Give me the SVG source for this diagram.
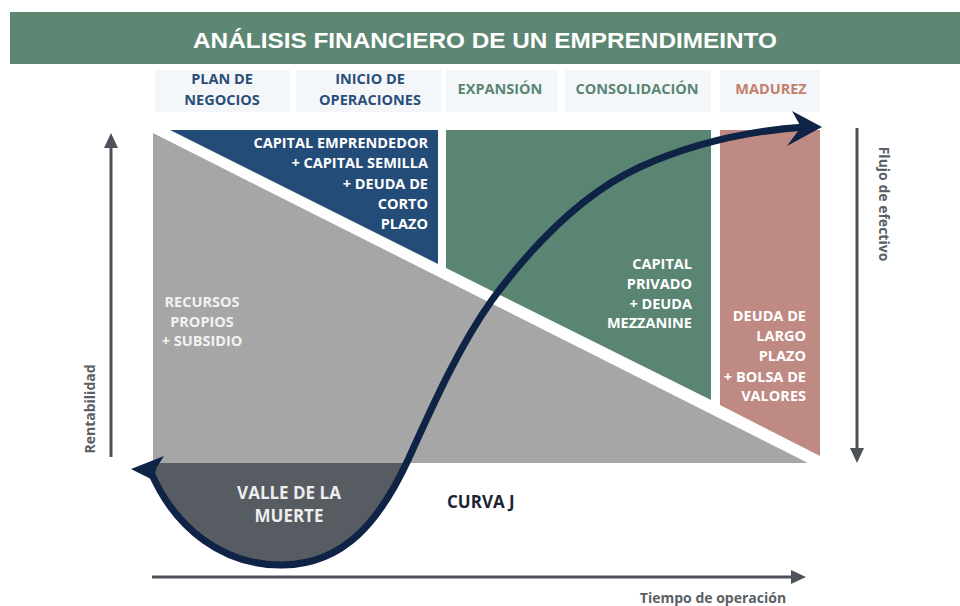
<svg xmlns="http://www.w3.org/2000/svg" width="960" height="606" viewBox="0 0 960 606">
<defs>
<style>
.t{font-family:"Open Sans","Liberation Sans",sans-serif;font-weight:700}
.hd{font-size:14.5px;text-anchor:middle}
.w{fill:#ffffff;font-size:14.5px;text-anchor:end}
.lbl{font-size:14px;fill:#5a5f66}
.ax{stroke:#4d525a;stroke-width:3;fill:none}
.axh{fill:#4d525a}
.hb{fill:#f3f7fa}
</style>
</defs>
<rect width="960" height="606" fill="#ffffff"/>
<g id="title">
<rect x="10" y="12" width="950" height="52" fill="#5e8773"/>
<text x="485" y="48" font-family="'Liberation Sans',Arial,sans-serif" font-weight="700" font-size="22" fill="#ffffff" text-anchor="middle" textLength="584" lengthAdjust="spacingAndGlyphs">ANÁLISIS FINANCIERO DE UN EMPRENDIMEINTO</text>
</g>
<g id="phase-plan">
<rect class="hb" x="155" y="70" width="135" height="42"/>
<text class="t hd" x="222" y="84" fill="#2b4e78">PLAN DE</text>
<text class="t hd" x="222" y="105" fill="#2b4e78">NEGOCIOS</text>
</g>
<g id="phase-inicio">
<rect class="hb" x="296" y="70" width="145" height="42"/>
<text class="t hd" x="370" y="84" fill="#2b4e78">INICIO DE</text>
<text class="t hd" x="370" y="105" fill="#2b4e78">OPERACIONES</text>
</g>
<g id="phase-expansion">
<rect class="hb" x="446" y="70" width="112" height="42"/>
<text class="t hd" x="500" y="94" fill="#5a8572">EXPANSIÓN</text>
</g>
<g id="phase-consolidacion">
<rect class="hb" x="565" y="70" width="146" height="42"/>
<text class="t hd" x="637" y="94" fill="#5a8572">CONSOLIDACIÓN</text>
</g>
<g id="phase-madurez">
<rect class="hb" x="720" y="70" width="100" height="42"/>
<text class="t hd" x="771" y="94" fill="#c47e6c">MADUREZ</text>
</g>
<g id="valle">
<path d="M150,463 L150,470 C175,530 225,566 283,565 C345,564 380,520 408,460 Z" fill="#575b62"/>
</g>
<g id="recursos">
<polygon points="153,133 808,463 153,463" fill="#a6a6a6"/>
<g class="t" font-size="14.5" fill="#f2f2f2" text-anchor="middle">
<text x="202" y="307">RECURSOS</text>
<text x="202" y="327">PROPIOS</text>
<text x="202" y="346">+ SUBSIDIO</text>
</g>
</g>
<g id="capital-emprendedor">
<polygon points="170,130 438,130 438,264" fill="#244c78"/>
<text class="t w" x="428" y="148">CAPITAL EMPRENDEDOR</text>
<text class="t w" x="428" y="168">+ CAPITAL SEMILLA</text>
<text class="t w" x="428" y="189">+ DEUDA DE</text>
<text class="t w" x="428" y="209">CORTO</text>
<text class="t w" x="428" y="229">PLAZO</text>
</g>
<g id="capital-privado">
<polygon points="446,130 711,130 711,400 446,268" fill="#5a8572"/>
<text class="t w" x="692" y="269">CAPITAL</text>
<text class="t w" x="692" y="289">PRIVADO</text>
<text class="t w" x="692" y="309">+ DEUDA</text>
<text class="t w" x="692" y="328">MEZZANINE</text>
</g>
<g id="deuda-largo">
<polygon points="720,130 820,130 820,456 720,405" fill="#bf8a84"/>
<text class="t w" x="806" y="321">DEUDA DE</text>
<text class="t w" x="806" y="341">LARGO</text>
<text class="t w" x="806" y="361">PLAZO</text>
<text class="t w" x="806" y="382">+ BOLSA DE</text>
<text class="t w" x="806" y="401">VALORES</text>
</g>
<g id="valle-label" class="t" font-size="17" fill="#eeeeee" text-anchor="middle">
<text x="289" y="499">VALLE DE LA</text>
<text x="289" y="522">MUERTE</text>
</g>
<g id="connectors">
<path d="M150,470 C175,530 225,566 283,565 C345,564 380,520 408,460 C435,400 460,345 492,300 C540,235 590,190 640,167 C700,140 760,130 805,127" fill="none" stroke="#0e2346" stroke-width="7"/>
<polygon points="822,127 792,111 801,127 787,146" fill="#0e2346"/>
<polygon points="131,469 164,456 157,467 153,480" fill="#0e2346"/>
<line class="ax" x1="111" y1="457" x2="111" y2="146"/>
<polygon class="axh" points="111,133 104,148 118,148"/>
<line class="ax" x1="857" y1="128" x2="857" y2="450"/>
<polygon class="axh" points="857,463 850,448 864,448"/>
<line class="ax" x1="152" y1="577" x2="792" y2="577"/>
<polygon class="axh" points="806,577 791,570 791,584"/>
</g>
<g id="curva-j-label">
<text class="t" x="447" y="508" font-size="17" fill="#1c2535">CURVA J</text>
</g>
<g id="axis-labels">
<text class="t lbl" transform="translate(95,409) rotate(-90)" text-anchor="middle">Rentabilidad</text>
<text class="t lbl" transform="translate(879,204) rotate(90)" text-anchor="middle" font-size="14.5">Flujo de efectivo</text>
<text class="t lbl" x="713" y="603" text-anchor="middle" font-size="14.5">Tiempo de operación</text>
</g>
</svg>
